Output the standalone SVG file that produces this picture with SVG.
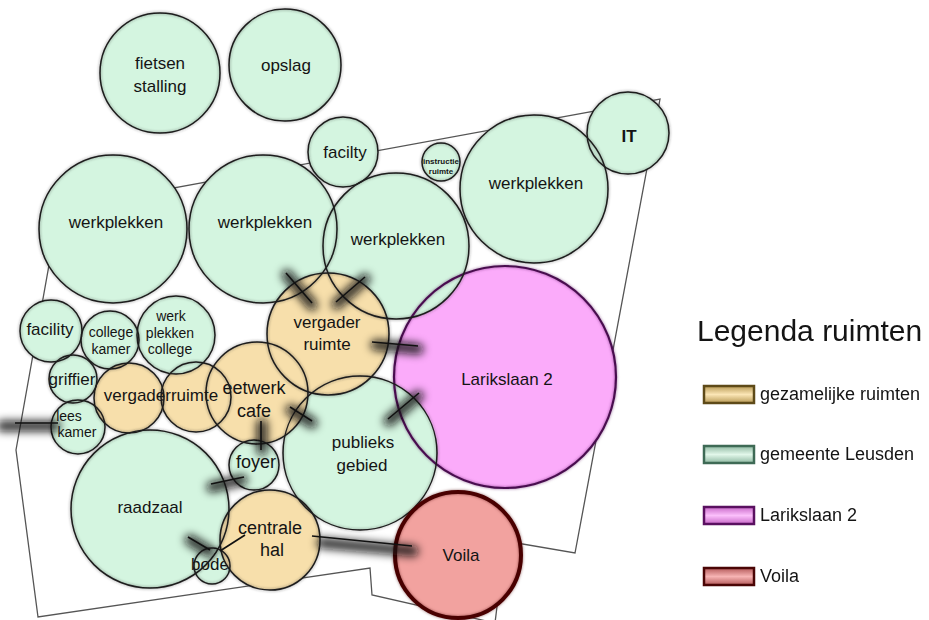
<svg xmlns="http://www.w3.org/2000/svg" width="929" height="620" viewBox="0 0 929 620">
<style>
.g{fill:#d4f5e0}
.t{fill:#f7dfab}
.p{fill:#fbabfa}
.v{fill:#f2a29f}
#outlines use{fill:none;stroke:#1c1c1c;stroke-width:1.5}
#outlines use.lp{stroke:#4a1050;stroke-width:2.2}
#outlines use.lv{stroke:#4a0606;stroke-width:4}
text{font-family:"Liberation Sans",Arial,sans-serif;fill:#141414;text-anchor:middle;font-size:17px}
.s14{font-size:14px}
.s18{font-size:18px}
.tiny{font-size:8px;font-weight:bold}
.lg{text-anchor:start;font-size:18px}
#plan{fill:none;stroke:#555;stroke-width:1.3}
#connectors .sh{stroke:#111;stroke-width:11;stroke-linecap:round;opacity:.85}
#connectors .ln{stroke:#111;stroke-width:1.6;fill:none}
.sw{stroke-width:2.5}
</style>
<defs>
<filter id="soft" filterUnits="userSpaceOnUse" x="0" y="0" width="929" height="620"><feGaussianBlur stdDeviation="1.4" result="b"/><feColorMatrix in="b" type="matrix" values="1 0 0 0 0 0 1 0 0 0 0 0 1 0 0 0 0 0 0.55 0" result="c"/><feMerge><feMergeNode in="c"/><feMergeNode in="SourceGraphic"/></feMerge></filter>
<filter id="blur" filterUnits="userSpaceOnUse" x="0" y="0" width="929" height="620"><feGaussianBlur stdDeviation="4.5"/></filter>
<clipPath id="clipVR"><path clip-rule="evenodd" d="M0 0H929V620H0Z M206 393a51 51 0 1 0 102 0a51 51 0 1 0-102 0Z M137 335a39 39 0 1 0 78 0a39 39 0 1 0-78 0Z"/></clipPath>
<linearGradient id="gT" x1="0" y1="0" x2="0" y2="1"><stop offset="0" stop-color="#b89a55"/><stop offset=".5" stop-color="#fbe6b6"/><stop offset="1" stop-color="#b89a55"/></linearGradient>
<linearGradient id="gG" x1="0" y1="0" x2="0" y2="1"><stop offset="0" stop-color="#8fb9a2"/><stop offset=".5" stop-color="#e2f7ea"/><stop offset="1" stop-color="#8fb9a2"/></linearGradient>
<linearGradient id="gP" x1="0" y1="0" x2="0" y2="1"><stop offset="0" stop-color="#c868c8"/><stop offset=".5" stop-color="#fbc0fb"/><stop offset="1" stop-color="#c868c8"/></linearGradient>
<linearGradient id="gV" x1="0" y1="0" x2="0" y2="1"><stop offset="0" stop-color="#b45a5a"/><stop offset=".5" stop-color="#f7b4b4"/><stop offset="1" stop-color="#b45a5a"/></linearGradient>
</defs>
<rect width="929" height="620" fill="#fff"/>
<polygon id="plan" points="59,209 660,99 575,553 505,541 495,623 372,595 370,568 38,617 16,450"/>
<g id="nodes">
<g id="n-larikslaan" class="p"><circle id="c-lar" cx="505" cy="377" r="111"/><text x="507" y="385">Larikslaan 2</text></g>
<g id="n-werkplekken1" class="g"><circle id="c-w1" cx="113" cy="229" r="74"/><text x="116" y="228">werkplekken</text></g>
<g id="n-werkplekken2" class="g"><circle id="c-w2" cx="263" cy="229" r="74"/><text x="265" y="228">werkplekken</text></g>
<g id="n-werkplekken3" class="g"><circle id="c-w3" cx="396" cy="246" r="73"/><text x="398" y="245">werkplekken</text></g>
<g id="n-werkplekken4" class="g"><circle id="c-w4" cx="534" cy="189" r="74"/><text x="536" y="189">werkplekken</text></g>
<g id="n-fietsenstalling" class="g"><circle id="c-fs" cx="160" cy="73" r="60"/><text x="160" y="69">fietsen</text><text x="160" y="92">stalling</text></g>
<g id="n-opslag" class="g"><circle id="c-op" cx="285" cy="65" r="56"/><text x="286" y="71">opslag</text></g>
<g id="n-facilty" class="g"><circle id="c-fa1" cx="343" cy="152" r="35"/><text x="345" y="158">facilty</text></g>
<g id="n-instructie" class="g"><circle id="c-ins" cx="441" cy="162" r="19"/><text class="tiny" x="441" y="164">instructie</text><text class="tiny" x="441" y="174">ruimte</text></g>
<g id="n-it" class="g"><circle id="c-it" cx="628" cy="133" r="41"/><text x="629" y="142" font-weight="bold">IT</text></g>
<g id="n-publieks" class="g"><circle id="c-pub" cx="360" cy="453" r="77"/><text x="363" y="448">publieks</text><text x="362" y="471">gebied</text></g>
<g id="n-eetwerkcafe" class="t"><circle id="c-eet" cx="257" cy="393" r="51"/><text class="s18" x="254" y="394">eetwerk</text><text class="s18" x="254" y="417">cafe</text></g>
<g id="n-vergaderruimte-top" class="t"><circle id="c-vg" cx="328" cy="334" r="61"/><text x="327" y="328">vergader</text><text x="327" y="350">ruimte</text></g>
<g id="n-facility" class="g"><circle id="c-fa2" cx="51" cy="331" r="31"/><text x="50" y="335">facility</text></g>
<g id="n-collegekamer" class="g"><circle id="c-ck" cx="110" cy="340" r="29"/><text class="s14" x="111" y="337">college</text><text class="s14" x="111" y="354">kamer</text></g>
<g id="n-werkplekkencollege" class="g"><circle id="c-wpc" cx="176" cy="335" r="39"/><text class="s14" x="171" y="321">werk</text><text class="s14" x="170" y="338">plekken</text><text class="s14" x="170" y="354">college</text></g>
<g id="n-griffier" class="g"><circle id="c-gr" cx="73" cy="379" r="24"/><text x="72" y="385">griffier</text></g>
<g id="n-leeskamer" class="g"><circle id="c-lk" cx="78" cy="427" r="27"/><text class="s14" x="69" y="421">lees</text><text class="s14" x="77" y="437">kamer</text></g>
<g id="n-raadzaal" class="g"><circle id="c-rz" cx="150" cy="509" r="79"/><text x="150" y="513">raadzaal</text></g>
<g id="n-bode" class="g"><circle id="c-bo" cx="212" cy="566" r="18"/><text x="210" y="570" font-size="13">bode</text></g>
<g id="n-foyer" class="g"><circle id="c-fo" cx="254" cy="465" r="25"/><text class="s18" x="256" y="468">foyer</text></g>
<g id="n-centralehal" class="t"><circle id="c-ch" cx="270" cy="540" r="50"/><text class="s18" x="270" y="534">centrale</text><text class="s18" x="272" y="556">hal</text></g>
<g id="n-voila" class="v"><circle id="c-vo" cx="458" cy="555" r="63"/><text x="461" y="561">Voila</text></g>
<g id="n-vergaderruimte" class="t"><g clip-path="url(#clipVR)"><circle id="c-vr1" cx="196" cy="397" r="35"/><circle id="c-vr2" cx="129" cy="398" r="35"/></g><text x="161" y="401">vergaderruimte</text></g>
</g>
<g id="outlines" filter="url(#soft)">
<use href="#c-lar" class="lp"/><use href="#c-w1"/><use href="#c-w2"/><use href="#c-w3"/><use href="#c-w4"/><use href="#c-fs"/><use href="#c-op"/><use href="#c-fa1"/><use href="#c-ins"/><use href="#c-it"/><use href="#c-pub"/><use href="#c-eet"/><use href="#c-vg"/><use href="#c-fa2"/><use href="#c-ck"/><use href="#c-wpc"/><use href="#c-gr"/><use href="#c-lk"/><use href="#c-rz"/><use href="#c-bo"/><use href="#c-fo"/><use href="#c-ch"/><use href="#c-vo" class="lv"/><use href="#c-vr1"/><use href="#c-vr2"/>
</g>
<g id="connectors">
<g filter="url(#blur)">
<line class="sh" x1="287" y1="275" x2="312" y2="305"/>
<line class="sh" x1="365" y1="279" x2="337" y2="304"/>
<line class="sh" x1="376" y1="345" x2="418" y2="349"/>
<line class="sh" x1="291" y1="410" x2="312" y2="423"/>
<line class="sh" x1="389" y1="421" x2="418" y2="396"/>
<line class="sh" x1="262" y1="424" x2="262" y2="450"/>
<line class="sh" x1="2" y1="426" x2="55" y2="426"/>
<line class="sh" x1="212" y1="487" x2="242" y2="480"/>
<line class="sh" x1="190" y1="540" x2="210" y2="552"/>
<line class="sh" x1="322" y1="543" x2="413" y2="551"/>
</g>
<line class="ln" x1="286" y1="273" x2="312" y2="303"/>
<line class="ln" x1="365" y1="277" x2="336" y2="302"/>
<line class="ln" x1="372" y1="342" x2="418" y2="346"/>
<line class="ln" x1="290" y1="407" x2="312" y2="421"/>
<line class="ln" x1="388" y1="419" x2="419" y2="393"/>
<line class="ln" x1="261" y1="421" x2="261" y2="450"/>
<line class="ln" x1="15" y1="423" x2="58" y2="423"/>
<line class="ln" x1="211" y1="484" x2="244" y2="477"/>
<line class="ln" x1="188" y1="537" x2="210" y2="550"/>
<line class="ln" x1="220" y1="551" x2="245" y2="535"/>
<line class="ln" x1="312" y1="536" x2="412" y2="546"/>
</g>
<g id="legend">
<text x="697" y="341" style="text-anchor:start;font-size:30px">Legenda ruimten</text>
<rect class="sw" x="704" y="386" width="50" height="17" fill="url(#gT)" stroke="#5e4a18"/>
<text class="lg" x="760" y="400">gezamelijke ruimten</text>
<rect class="sw" x="704" y="446" width="50" height="17" fill="url(#gG)" stroke="#3e6a55"/>
<text class="lg" x="760" y="460">gemeente Leusden</text>
<rect class="sw" x="704" y="507" width="50" height="17" fill="url(#gP)" stroke="#5a1060"/>
<text class="lg" x="760" y="521">Larikslaan 2</text>
<rect class="sw" x="704" y="568" width="50" height="17" fill="url(#gV)" stroke="#4a0505"/>
<text class="lg" x="760" y="582">Voila</text>
</g>
</svg>
